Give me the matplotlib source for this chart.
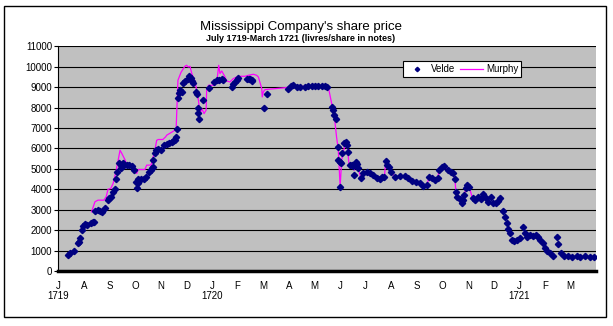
import matplotlib
matplotlib.use("Agg")
import matplotlib.pyplot as plt
from matplotlib.patches import Rectangle

plt.rcParams['font.family'] = ['Liberation Sans', 'DejaVu Sans']

# x = months since 1 July 1719 (ticks at month starts)
month_labels = ['J\n1719', 'A', 'S', 'O', 'N', 'D', 'J\n1720', 'F', 'M', 'A', 'M',
                'J', 'J', 'A', 'S', 'O', 'N', 'D', 'J\n1721', 'F', 'M']

velde_x = [0.39, 0.45, 0.62, 0.76, 0.81, 0.86, 0.91, 0.98, 1.04, 1.11, 1.28, 1.34, 1.41,
           1.43, 1.54, 1.63, 1.72, 1.82, 1.93, 1.99, 2.06, 2.15, 2.21, 2.24, 2.28, 2.37,
           2.44, 2.45, 2.51, 2.58, 2.67, 2.76, 2.86, 2.95, 3.03, 3.07, 3.10, 3.12, 3.23,
           3.33, 3.43, 3.54, 3.62, 3.65, 3.70, 3.71, 3.77, 3.81, 3.90, 3.99, 4.13, 4.23,
           4.33, 4.43, 4.49, 4.56, 4.59, 4.62, 4.66, 4.72, 4.75, 4.82, 4.88, 4.95, 5.05,
           5.11, 5.17, 5.21, 5.27, 5.37, 5.43, 5.46, 5.47, 5.48, 5.66, 5.89, 6.08, 6.18,
           6.28, 6.38, 6.44, 6.77, 6.83, 6.90, 6.96, 7.03, 7.35, 7.44, 7.50, 7.55, 7.58,
           8.04, 8.13, 8.98, 9.08, 9.17, 9.31, 9.44, 9.63, 9.76, 9.89, 10.02, 10.15, 10.28,
           10.41, 10.48, 10.69, 10.73, 10.77, 10.83, 10.90, 10.93, 10.99, 11.00, 11.03,
           11.09, 11.16, 11.22, 11.27, 11.32, 11.39, 11.45, 11.51, 11.55, 11.61, 11.65,
           11.71, 11.81, 11.91, 12.04, 12.17, 12.30, 12.43, 12.56, 12.65, 12.73, 12.78,
           12.82, 12.91, 12.99, 13.14, 13.34, 13.53, 13.66, 13.79, 13.95, 14.12, 14.25,
           14.38, 14.47, 14.57, 14.70, 14.81, 14.86, 14.97, 15.07, 15.20, 15.33, 15.42,
           15.48, 15.52, 15.57, 15.68, 15.74, 15.78, 15.84, 15.91, 15.97, 16.04, 16.17,
           16.27, 16.40, 16.49, 16.59, 16.70, 16.78, 16.88, 16.98, 17.08, 17.17, 17.24,
           17.35, 17.44, 17.50, 17.57, 17.63, 17.70, 17.79, 17.92, 18.02, 18.15, 18.22,
           18.31, 18.41, 18.52, 18.65, 18.74, 18.81, 18.91, 19.00, 19.06, 19.19, 19.32,
           19.45, 19.52, 19.61, 19.74, 19.91, 20.04, 20.23, 20.36, 20.56, 20.75, 20.91]
velde_y = [780, 865, 990, 1355, 1435, 1600, 2005, 2215, 2280, 2265, 2360, 2395, 2410,
           2935, 2980, 2935, 2900, 3065, 3470, 3555, 3635, 3880, 4000, 4485, 4860, 5300,
           5020, 5185, 5300, 5185, 5185, 5185, 5135, 4970, 4370, 4045, 4290, 4485, 4485,
           4485, 4580, 4860, 4940, 5020, 5100, 5430, 5755, 5915, 5980, 5950, 6160, 6210,
           6245, 6310, 6370, 6440, 6570, 6930, 8475, 8720, 8850, 8770, 9210, 9290, 9420,
           9535, 9470, 9305, 9210, 8770, 8655, 8005, 7740, 7420, 8360, 8985, 9260, 9340,
           9375, 9420, 9340, 9010, 9180, 9260, 9340, 9470, 9420, 9420, 9420, 9375, 9305,
           8005, 8655, 8935, 9045, 9095, 9010, 9010, 9010, 9045, 9045, 9045, 9045, 9045,
           9045, 9010, 8035, 7905, 7630, 7465, 6080, 5460, 5345, 4095, 5295,
           5785, 6245, 6325, 6160, 5835, 5185, 5185, 5135, 4695, 5345, 5230,
           5020, 4535, 4780, 4860, 4810, 4695, 4535, 4485, 4580, 4610, 5395,
           5185, 5100, 4860, 4610, 4645, 4645, 4535, 4415, 4365, 4290, 4170,
           4205, 4580, 4535, 4450, 4535, 4940, 5100, 5135, 4940, 4860, 4780,
           4485, 3880, 3635, 3505, 3310, 3470, 3715, 4045, 4205, 4095, 3555,
           3470, 3635, 3505, 3765, 3555, 3390, 3635, 3310, 3310, 3440, 3555,
           2950, 2655, 2360, 2040, 1845, 1515, 1480, 1515, 1600, 2135, 1845,
           1650, 1760, 1710, 1760, 1650, 1515, 1385, 1110, 995, 865, 735,
           1650, 1320, 865, 735, 735, 700, 735, 670, 735, 700, 700]

murphy_x = [1.30, 1.43, 1.55, 1.78, 1.87, 1.94, 2.05, 2.14, 2.25, 2.41, 2.48, 2.61, 2.68,
            2.86, 2.99, 3.06, 3.12, 3.38, 3.45, 3.62, 3.77, 3.84, 3.90, 4.08, 4.19, 4.23,
            4.43, 4.56, 4.60, 4.67, 4.79, 4.94, 5.01, 5.07, 5.14, 5.21, 5.34, 5.40, 5.47,
            5.51, 5.56, 5.60, 5.69, 5.77, 5.79, 5.86, 6.11, 6.12, 6.21, 6.26, 6.31, 6.38,
            6.51, 6.57, 6.70, 6.83, 6.96, 7.05, 7.29, 7.42, 7.61, 7.74, 7.81, 7.94, 7.96,
            8.00, 8.07, 8.92, 9.04, 10.48, 10.54, 10.67, 10.77, 10.86, 10.93, 11.00, 11.06,
            11.12, 11.19, 11.29, 11.35, 11.45, 11.55, 11.61, 11.71, 11.81, 11.91, 12.04,
            12.17, 12.30, 12.43, 12.56, 12.73, 12.78, 12.82, 12.99, 13.14, 13.34, 13.53,
            13.66, 13.79, 13.95, 14.12, 14.25, 14.38, 14.47, 14.70, 14.81, 14.86, 15.07,
            15.20, 15.42, 15.48, 15.52, 15.57, 15.68, 15.74, 15.84, 15.91, 15.97, 16.04,
            16.17]
murphy_y = [2900, 3390, 3470, 3470, 3635, 4000, 4045, 4290, 4860, 5915, 5755, 5430, 5185,
            5185, 5020, 4780, 4970, 4970, 5185, 5185, 5915, 6400, 6440, 6440, 6570, 6650,
            6800, 6900, 6980, 9340, 9730, 10025, 10075, 9990, 10025, 9670, 9260, 8850, 8360,
            7955, 7790, 7955, 7710, 7875, 8850, 9095, 9095, 9210, 9500, 10075, 9670, 9795,
            9500, 9305, 9260, 9420, 9500, 9535, 9535, 9585, 9635, 9585, 9500, 8935, 8525,
            8770, 8885, 8985, 9045, 9045, 9010, 8200, 7630, 6570, 5915, 4120, 5430,
            5835, 6160, 6000, 5185, 5185, 4940, 5300, 5020, 4535, 4780, 4860,
            4810, 4695, 4535, 4485, 4610, 5395, 5185, 4860, 4610, 4645, 4645,
            4535, 4415, 4365, 4290, 4170, 4205, 4580, 4450, 4535, 4940, 5135,
            4940, 4780, 4485, 3880, 3500, 3400, 3450, 3715, 4045, 4205, 4095,
            3555]

fig = plt.figure(figsize=(6.13, 3.26), dpi=100)
fig.patches.append(Rectangle((0.0065, 0.028), 0.982, 0.954, transform=fig.transFigure,
                             fill=False, edgecolor='black', linewidth=1))
ax = fig.add_axes([0.0951, 0.1687, 0.8777, 0.689])
ax.set_facecolor('#c0c0c0')

ax.plot(murphy_x, murphy_y, color='#ff00ff', linewidth=0.9, label='Murphy', zorder=3)
ax.plot(velde_x, velde_y, linestyle='none', marker='D', markersize=3.2,
        color='#000080', label='Velde', zorder=4)

ax.set_xlim(0, 21)
ax.set_ylim(0, 11000)
ax.set_yticks(range(0, 11001, 1000))
ax.set_xticks(range(len(month_labels)))
ax.set_xticklabels(month_labels, fontsize=7, va='top', linespacing=1.0)
ax.tick_params(axis='x', length=0, pad=7.5)
ax.tick_params(axis='y', labelsize=7, length=3, width=0.8, pad=1.5)
ax.grid(axis='y', color='black', linewidth=0.8)
ax.set_axisbelow(True)

for s in ['top', 'right']:
    ax.spines[s].set_visible(False)
ax.spines['left'].set_linewidth(0.8)
ax.spines['bottom'].set_linewidth(2.5)

handles, labels = ax.get_legend_handles_labels()
leg = ax.legend(handles[::-1], labels[::-1], ncol=2, loc='upper left',
                bbox_to_anchor=(0.641, 0.935), fontsize=7, fancybox=False,
                edgecolor='black', framealpha=1, borderpad=0.3, handlelength=2.3,
                handletextpad=0.3, columnspacing=0.5, borderaxespad=0, markerscale=0.7)
leg.get_frame().set_linewidth(0.8)

fig.text(0.491, 1 - 27 / 326, "Mississippi Company's share price", ha='center',
         va='center', fontsize=9.5)
fig.text(0.491, 1 - 38.5 / 326, "July 1719-March 1721 (livres/share in notes)",
         ha='center', va='center', fontsize=6.5, fontweight='bold')

fig.savefig('out.png', dpi=100)
